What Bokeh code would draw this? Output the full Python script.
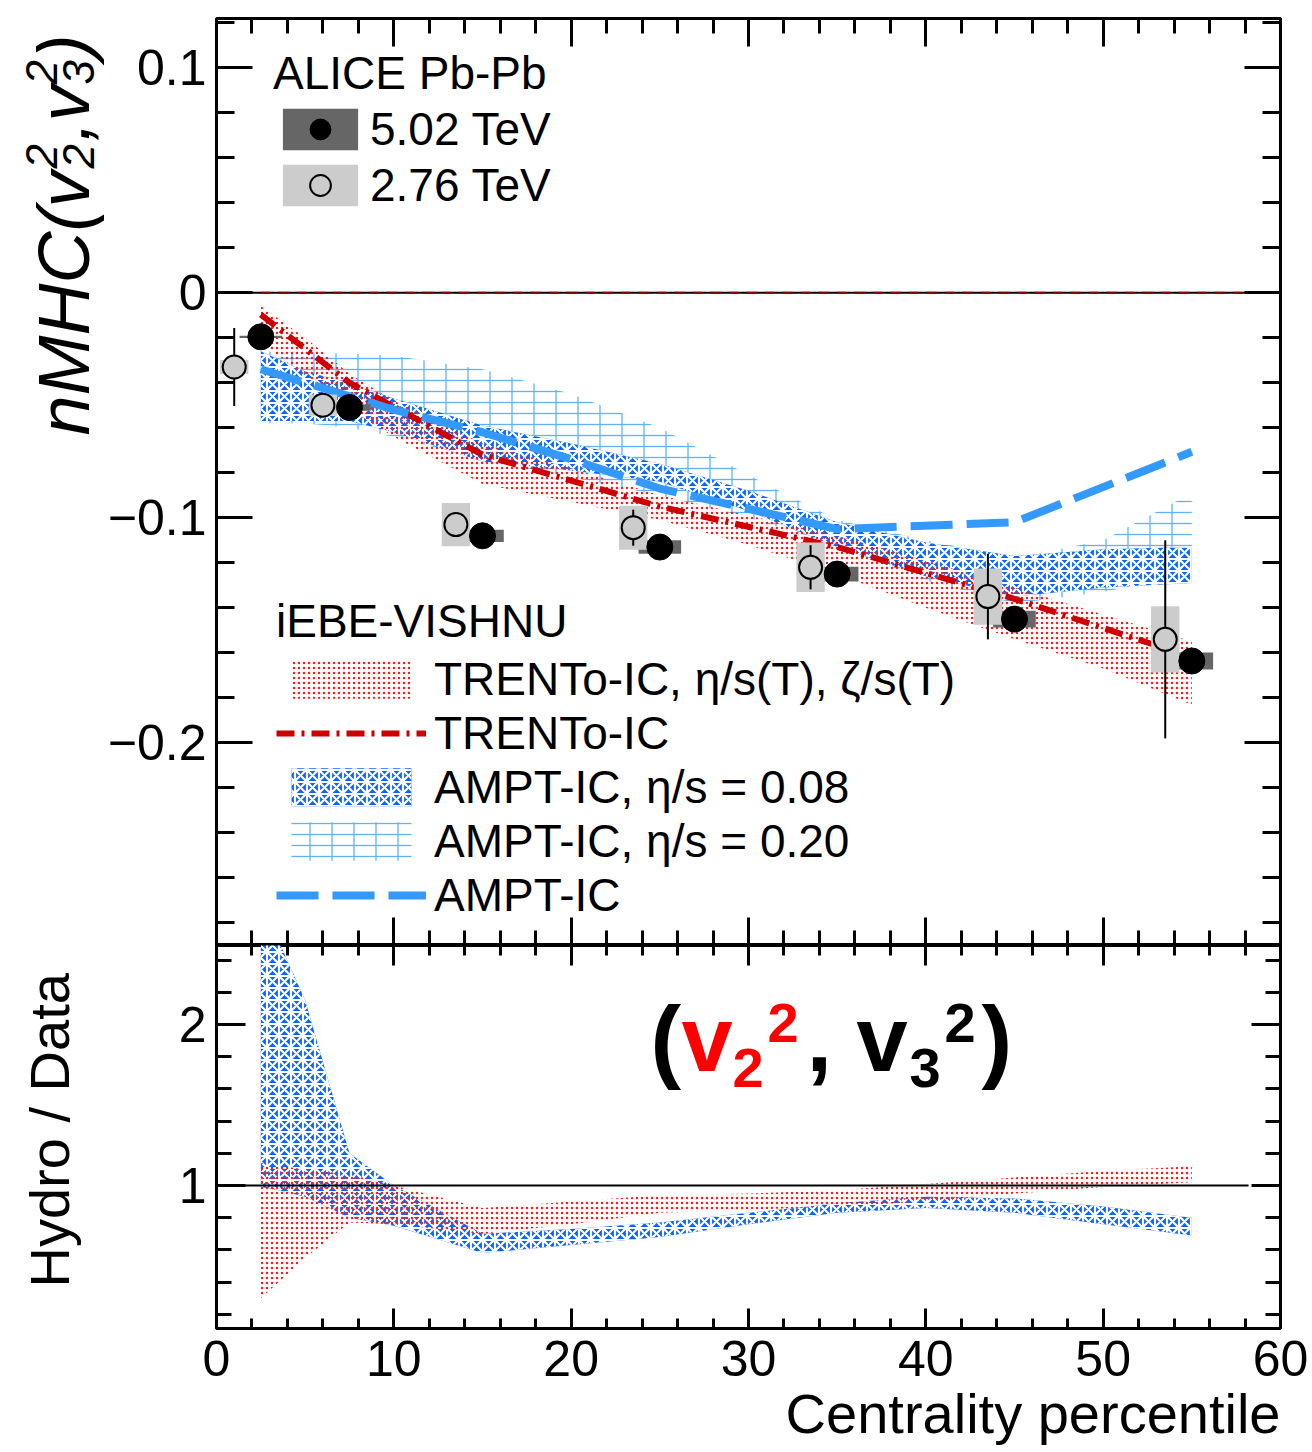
from math import pi
import numpy as np
from bokeh.plotting import figure
from bokeh.layouts import column, row
from bokeh.models import (Range1d, LinearAxis, FixedTicker, CustomJSTickFormatter,
                          Label, Legend, LegendItem, Title)
from bokeh.embed import file_html
from bokeh.resources import INLINE

FONT = "Liberation Sans"

# ---------------- data ----------------
# ALICE Pb-Pb 5.02 TeV
cent_502 = [2.5, 7.5, 15, 25, 35, 45, 55]
nmhc_502 = [-0.0196, -0.051, -0.108, -0.113, -0.125, -0.145, -0.1636]
stat_502 = [0.002, 0.002, 0.002, 0.002, 0.003, 0.003, 0.004]
sys_502 = [0.0005, 0.0014, 0.0027, 0.0030, 0.0033, 0.0037, 0.0038]
# ALICE Pb-Pb 2.76 TeV
cent_276 = [1.0, 6.0, 13.5, 23.5, 33.5, 43.5, 53.5]
nmhc_276 = [-0.033, -0.050, -0.103, -0.1044, -0.122, -0.135, -0.154]
stat_276 = [0.0173, 0.004, 0.004, 0.008, 0.0098, 0.019, 0.044]
sys_276 = [0.0031, 0.0047, 0.0096, 0.0098, 0.011, 0.0125, 0.0147]

# iEBE-VISHNU model bands
model_cent = [2.5, 5, 7.5, 10, 15, 20, 25, 30, 35, 40, 45, 50, 55]
trento_visc_hi = [-0.006, -0.020, -0.036, -0.048, -0.067, -0.078, -0.090, -0.099, -0.108, -0.119, -0.131, -0.143, -0.155]
trento_visc_lo = [-0.022, -0.037, -0.052, -0.064, -0.085, -0.093, -0.101, -0.112, -0.125, -0.140, -0.154, -0.167, -0.183]
ampt008_hi = [-0.026, -0.035, -0.040, -0.047, -0.059, -0.067, -0.076, -0.088, -0.102, -0.111, -0.117, -0.114, -0.113]
ampt008_lo = [-0.057, -0.057, -0.057, -0.062, -0.075, -0.079, -0.084, -0.097, -0.113, -0.126, -0.135, -0.131, -0.129]
ampt020_hi = [-0.026, -0.027, -0.027, -0.028, -0.034, -0.045, -0.060, -0.081, -0.101, -0.110, -0.118, -0.110, -0.089]
ampt020_lo = [-0.058, -0.058, -0.060, -0.064, -0.074, -0.082, -0.090, -0.100, -0.112, -0.128, -0.138, -0.133, -0.125]

trento_line_cent = [2.5, 7.5, 15, 25, 35, 45, 53.5]
trento_line = [-0.0098, -0.040, -0.072, -0.095, -0.113, -0.136, -0.158]
ampt_line_cent = [2.5, 5, 10, 15, 20, 25, 30, 35, 45, 55]
ampt_line = [-0.034, -0.040, -0.052, -0.062, -0.074, -0.087, -0.096, -0.105, -0.102, -0.0707]

# Hydro / Data ratios
ratio_trento_cent = [2.5, 5, 7.5, 10, 15, 20, 25, 30, 35, 40, 45, 50, 55]
ratio_trento_lo = [0.30, 0.55, 0.77, 0.76, 0.70, 0.76, 0.83, 0.85, 0.87, 0.90, 0.95, 0.99, 1.02]
ratio_trento_hi = [1.14, 1.10, 1.07, 1.00, 0.86, 0.90, 0.94, 0.95, 0.97, 1.01, 1.05, 1.09, 1.12]
ratio_ampt_cent = [2.5, 3.5, 5, 7.5, 10, 15, 20, 25, 30, 35, 40, 45, 50, 55]
ratio_ampt_lo = [0.99, 0.97, 0.93, 0.80, 0.75, 0.58, 0.63, 0.68, 0.76, 0.83, 0.86, 0.83, 0.76, 0.69]
ratio_ampt_hi = [2.52, 2.52, 2.15, 1.20, 1.00, 0.70, 0.73, 0.77, 0.83, 0.89, 0.93, 0.92, 0.87, 0.80]

# axis ticks
x_major = [0, 10, 20, 30, 40, 50, 60]
x_minor = list(range(0, 61, 2))
y1_major = [-0.2, -0.1, 0.0, 0.1]
y1_minor = [round(v, 2) for v in np.arange(-0.28, 0.121, 0.02)]
y2_major = [1, 2]
y2_minor = [round(v, 1) for v in np.arange(0.2, 2.41, 0.2)]

# ---------------- styling ----------------
LW = 104          # width of the strip that carries the y titles
W = 1312 - LW
FL = 213 - LW     # left border of the panels (frame starts at page x 213)
FR = 32
C_RED_DOT = "#ff1a1a"
C_TRENTO = "#cc0000"
C_BLUE = "#0a64ff"
C_BRICK = "#5ab4ff"
C_AMPT = "#3399ff"
BOX_W_502 = 2.4
BOX_W_276 = 1.6
REF_LINE_END = 58.2
BASE_SHIFT = 0.34   # empirical: alphabetic baseline is drawn this many em lower

blank_fmt = CustomJSTickFormatter(code="return '';")


def add_axis(p, side, major, minor, tin, tmin, label_size=None, standoff=0, formatter=None):
    ax = LinearAxis(ticker=FixedTicker(ticks=major, minor_ticks=minor))
    ax.axis_line_color = None
    ax.major_tick_in = tin
    ax.major_tick_out = 0
    ax.minor_tick_in = tmin
    ax.minor_tick_out = 0
    ax.major_tick_line_width = 3
    ax.minor_tick_line_width = 3
    ax.major_tick_line_color = "black"
    ax.minor_tick_line_color = "black"
    if label_size:
        ax.major_label_text_font = FONT
        ax.major_label_text_font_size = label_size
        ax.major_label_text_color = "black"
        ax.major_label_standoff = standoff
        if formatter is not None:
            ax.formatter = formatter
    else:
        ax.formatter = blank_fmt
        ax.major_label_text_font_size = "10px"
        ax.major_label_standoff = 0
    p.add_layout(ax, side)


def page_label(p, ref, text, px, py, size, **kw):
    """Place an unrotated label by the page position of its baseline start."""
    (dx, dy, rpx, rpy) = ref
    ay_ = py - BASE_SHIFT * size
    lab = Label(x=dx, y=dy, x_offset=px - rpx, y_offset=rpy - ay_, text=text,
                text_font=FONT, text_font_size=f"{size}px", text_align="left",
                text_baseline="alphabetic", **kw)
    p.add_layout(lab)


# ---------------- strip with the y titles ----------------
pl = figure(width=LW, height=1452, x_range=Range1d(0, LW), y_range=Range1d(1452, 0),
            output_backend="svg", toolbar_location=None,
            x_axis_location=None, y_axis_location=None, min_border=0,
            min_border_left=0, min_border_right=0, min_border_top=0, min_border_bottom=0)
pl.outline_line_color = None
pl.xgrid.grid_line_color = None
pl.ygrid.grid_line_color = None


def strip_label(text, px, py, size, **kw):
    shift = BASE_SHIFT * size
    lab = Label(x=px - shift, y=py, text=text, text_font=FONT, text_font_size=f"{size}px",
                text_align="left", text_baseline="alphabetic", angle=pi / 2,
                angle_units="rad", text_color="black", **kw)
    pl.add_layout(lab)


it = dict(text_font_style="italic")
strip_label("nMHC(v", 88, 435, 72, **it)
strip_label("2", 93, 168, 44, **it)
strip_label("2", 56, 168, 44, **it)
strip_label(",v", 88, 141, 72, **it)
strip_label("3", 93, 84, 44, **it)
strip_label("2", 56, 84, 44, **it)
strip_label(")", 88, 58, 72, **it)
strip_label("Hydro / Data", 68, 1287, 56)

# ---------------- top panel ----------------
p1 = figure(width=W, height=945, x_range=Range1d(0, 60), y_range=Range1d(-0.29, 0.1218),
            output_backend="svg", toolbar_location=None,
            x_axis_location=None, y_axis_location=None,
            min_border_left=FL, min_border_right=FR, min_border_top=18, min_border_bottom=0)
p1.outline_line_color = "black"
p1.outline_line_width = 3
p1.xgrid.grid_line_color = None
p1.ygrid.grid_line_color = None

minus_fmt = CustomJSTickFormatter(code="""
const v = Math.round(tick*10)/10;
if (Math.abs(v) < 1e-9) return '0';
return (v < 0 ? '\u2212' : '') + Math.abs(v).toString();
""")
add_axis(p1, "left", y1_major, y1_minor, 36, 18, "50px", 10, minus_fmt)
add_axis(p1, "right", y1_major, y1_minor, 36, 18)
add_axis(p1, "above", x_major, x_minor, 28, 15)
add_axis(p1, "below", x_major, x_minor, 28, 15)

r_brick_h = p1.varea(x=model_cent, y1=ampt020_lo, y2=ampt020_hi, fill_color=None,
                     hatch_pattern="horizontal_line", hatch_color=C_BRICK, hatch_scale=11,
                     hatch_weight=1.3)
r_brick_v = p1.varea(x=model_cent, y1=ampt020_lo, y2=ampt020_hi, fill_color=None,
                     hatch_pattern="vertical_line", hatch_color=C_BRICK, hatch_scale=22,
                     hatch_weight=1.3)
r_blue = p1.varea(x=model_cent, y1=ampt008_lo, y2=ampt008_hi, fill_color=C_BLUE,
                  hatch_pattern="criss_cross", hatch_color="white", hatch_scale=12, hatch_weight=2.2)
r_red = p1.varea(x=model_cent, y1=trento_visc_lo, y2=trento_visc_hi, fill_color=None,
                 hatch_pattern="dot", hatch_color=C_RED_DOT, hatch_scale=5, hatch_weight=1)

p1.segment(x0=[0], y0=[0], x1=[REF_LINE_END], y1=[0], line_color="black", line_width=2)
p1.segment(x0=[2.5], y0=[0], x1=[REF_LINE_END], y1=[0], line_color="#8b0000", line_width=2,
           line_dash="10 8")

r_trento = p1.line(trento_line_cent, trento_line, line_color=C_TRENTO, line_width=6,
                   line_dash="18 7 3 7")
r_ampt = p1.line(ampt_line_cent, ampt_line, line_color=C_AMPT, line_width=8, line_dash="42 14")

r_box502 = p1.rect(x=cent_502, y=nmhc_502, width=BOX_W_502, height=[2 * s for s in sys_502],
                   fill_color="#666666", line_color=None)
r_box276 = p1.rect(x=cent_276, y=nmhc_276, width=BOX_W_276, height=[2 * s for s in sys_276],
                   fill_color="#cccccc", line_color=None)
p1.segment(x0=cent_276, x1=cent_276, y0=[v - e for v, e in zip(nmhc_276, stat_276)],
           y1=[v + e for v, e in zip(nmhc_276, stat_276)], line_color="black", line_width=2)
p1.segment(x0=cent_502, x1=cent_502, y0=[v - e for v, e in zip(nmhc_502, stat_502)],
           y1=[v + e for v, e in zip(nmhc_502, stat_502)], line_color="black", line_width=2)
r_pt276 = p1.scatter(x=cent_276, y=nmhc_276, marker="circle", size=23, fill_color="#cccccc",
                     line_color="black", line_width=2)
r_pt502 = p1.scatter(x=cent_502, y=nmhc_502, marker="circle", size=26, fill_color="black",
                     line_color="black")

leg_common = dict(orientation="vertical", padding=0, margin=0,
                  label_text_font=FONT, label_text_font_size="46px", label_text_color="black",
                  title_text_font=FONT, title_text_font_size="46px",
                  title_text_font_style="normal", title_text_color="black",
                  background_fill_alpha=0, border_line_color=None)
leg1 = Legend(items=[LegendItem(label="5.02 TeV", renderers=[r_box502, r_pt502]),
                     LegendItem(label="2.76 TeV", renderers=[r_box276, r_pt276])],
              title="ALICE Pb-Pb", location=(57, 733),
              glyph_width=94, glyph_height=52, label_standoff=3, spacing=2,
              title_standoff=2, **leg_common)
p1.add_layout(leg1)

leg2 = Legend(items=[LegendItem(label="TRENTo-IC, \u03b7/s(T), \u03b6/s(T)", renderers=[r_red]),
                     LegendItem(label="TRENTo-IC", renderers=[r_trento]),
                     LegendItem(label="AMPT-IC, \u03b7/s = 0.08", renderers=[r_blue]),
                     LegendItem(label="AMPT-IC, \u03b7/s = 0.20", renderers=[r_brick_h, r_brick_v]),
                     LegendItem(label="AMPT-IC", renderers=[r_ampt])],
              title="iEBE-VISHNU", location=(60, 23),
              glyph_width=150, glyph_height=48, label_standoff=8, spacing=0,
              title_standoff=4, **leg_common)
p1.add_layout(leg2)

# ---------------- bottom panel ----------------
p2 = figure(width=W, height=507, x_range=p1.x_range, y_range=Range1d(0.1118, 2.4907),
            output_backend="svg", toolbar_location=None,
            x_axis_location=None, y_axis_location=None,
            min_border_left=FL, min_border_right=FR, min_border_top=0, min_border_bottom=124)
p2.outline_line_color = "black"
p2.outline_line_width = 3
p2.xgrid.grid_line_color = None
p2.ygrid.grid_line_color = None

add_axis(p2, "left", y2_major, y2_minor, 29, 15, "50px", 10)
add_axis(p2, "right", y2_major, y2_minor, 29, 15)
add_axis(p2, "above", x_major, x_minor, 20, 10)
add_axis(p2, "below", x_major, x_minor, 20, 10, "50px", 12)

p2.add_layout(Title(text="Centrality percentile", align="right", text_font=FONT,
                    text_font_size="56px", text_font_style="normal", text_color="black",
                    standoff=3, offset=0), "below")

p2.varea(x=ratio_ampt_cent, y1=ratio_ampt_lo, y2=ratio_ampt_hi, fill_color=C_BLUE,
         hatch_pattern="criss_cross", hatch_color="white", hatch_scale=12, hatch_weight=2.2)
p2.varea(x=ratio_trento_cent, y1=ratio_trento_lo, y2=ratio_trento_hi, fill_color=None,
         hatch_pattern="dot", hatch_color=C_RED_DOT, hatch_scale=5, hatch_weight=1)
p2.segment(x0=[0], y0=[1], x1=[REF_LINE_END], y1=[1], line_color="black", line_width=2)

REF2 = (0, 1.0, 213, 1185)
bold = dict(text_font_style="bold")
page_label(p2, REF2, "(", 647, 1070, 92, text_color="black", **bold)
page_label(p2, REF2, "v", 678, 1070, 92, text_color="#ff0000", **bold)
page_label(p2, REF2, "2", 729, 1087, 56, text_color="#ff0000", **bold)
page_label(p2, REF2, "2", 764, 1042, 56, text_color="#ff0000", **bold)
page_label(p2, REF2, ",", 803, 1070, 92, text_color="black", **bold)
page_label(p2, REF2, "v", 853, 1070, 92, text_color="black", **bold)
page_label(p2, REF2, "3", 906, 1087, 56, text_color="black", **bold)
page_label(p2, REF2, "2", 941, 1042, 56, text_color="black", **bold)
page_label(p2, REF2, ")", 978, 1070, 92, text_color="black", **bold)

layout = row(pl, column(p1, p2, spacing=0), spacing=0)
open("out.html", "w").write(file_html(layout, INLINE))
